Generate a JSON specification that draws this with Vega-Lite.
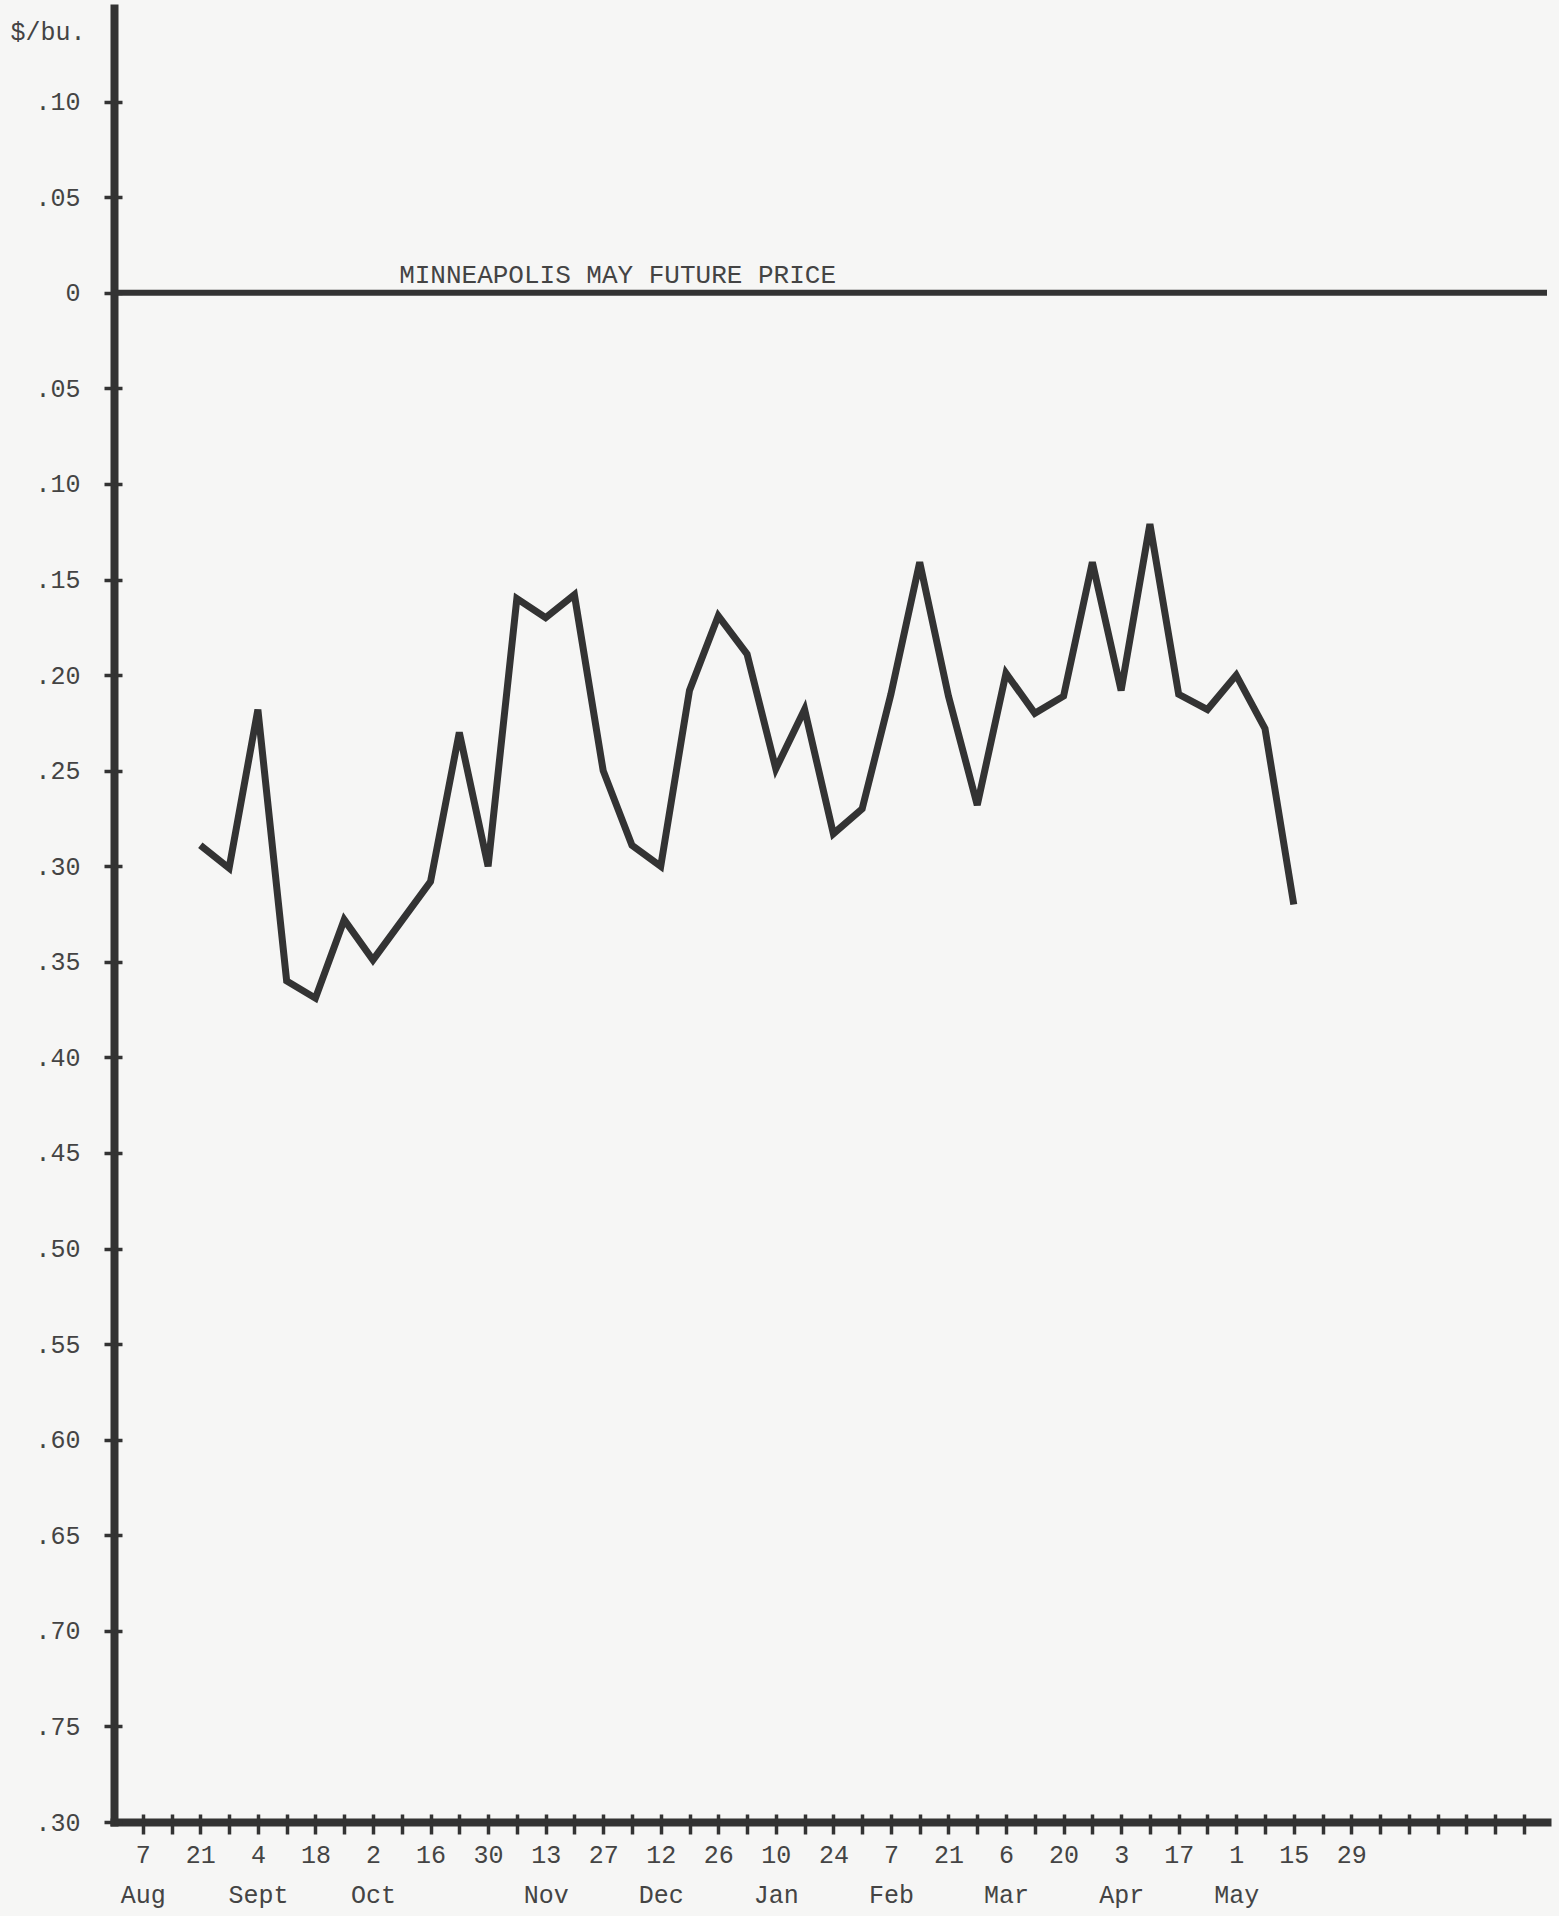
{
  "$schema": "https://vega.github.io/schema/vega-lite/v6.json",
  "width": 1433,
  "height": 1814,
  "autosize": {"type": "none"},
  "padding": {"left": 114, "top": 8, "right": 12, "bottom": 94},
  "background": "#f6f6f5",
  "config": {
    "view": {"stroke": null},
    "font": "Liberation Mono",
    "axis": {"grid": false}
  },
  "datasets": {
    "prices": [
      {"week": 2, "value": -0.289},
      {"week": 3, "value": -0.301},
      {"week": 4, "value": -0.218},
      {"week": 5, "value": -0.360},
      {"week": 6, "value": -0.369},
      {"week": 7, "value": -0.328},
      {"week": 8, "value": -0.349},
      {"week": 10, "value": -0.308},
      {"week": 11, "value": -0.230},
      {"week": 12, "value": -0.300},
      {"week": 13, "value": -0.160},
      {"week": 14, "value": -0.170},
      {"week": 15, "value": -0.158},
      {"week": 16, "value": -0.250},
      {"week": 17, "value": -0.289},
      {"week": 18, "value": -0.300},
      {"week": 19, "value": -0.208},
      {"week": 20, "value": -0.169},
      {"week": 21, "value": -0.189},
      {"week": 22, "value": -0.249},
      {"week": 23, "value": -0.218},
      {"week": 24, "value": -0.283},
      {"week": 25, "value": -0.270},
      {"week": 26, "value": -0.210},
      {"week": 27, "value": -0.141},
      {"week": 28, "value": -0.211},
      {"week": 29, "value": -0.268},
      {"week": 30, "value": -0.199},
      {"week": 31, "value": -0.220},
      {"week": 32, "value": -0.211},
      {"week": 33, "value": -0.141},
      {"week": 34, "value": -0.208},
      {"week": 35, "value": -0.121},
      {"week": 36, "value": -0.210},
      {"week": 37, "value": -0.218},
      {"week": 38, "value": -0.200},
      {"week": 39, "value": -0.228},
      {"week": 40, "value": -0.320}
    ],
    "reference": [{"value": 0}],
    "notes": [{"label": "MINNEAPOLIS MAY FUTURE PRICE", "week": 16.5, "value": 0}]
  },
  "resolve": {"axis": {"x": "independent", "y": "independent"}},
  "layer": [
    {
      "data": {"name": "reference"},
      "mark": {"type": "rule", "color": "#333333", "strokeWidth": 6},
      "encoding": {
        "y": {"field": "value", "type": "quantitative", "axis": null,
              "scale": {"domain": [-0.8, 0.149], "nice": false, "zero": false}}
      }
    },
    {
      "data": {"name": "prices"},
      "mark": {"type": "line", "color": "#333333", "strokeWidth": 7, "strokeJoin": "miter", "strokeMiterLimit": 4},
      "encoding": {
        "x": {
          "field": "week", "type": "quantitative",
          "scale": {"domain": [-1, 48.8], "nice": false, "zero": false},
          "axis": {
            "orient": "bottom",
            "title": null,
            "values": [0,1,2,3,4,5,6,7,8,9,10,11,12,13,14,15,16,17,18,19,20,21,22,23,24,25,26,27,28,29,30,31,32,33,34,35,36,37,38,39,40,41,42,43,44,45,46,47,48],
            "domain": true, "domainColor": "#333333", "domainWidth": 8, "domainCap": "square",
            "ticks": true, "tickSize": 12, "tickWidth": 3.5, "tickColor": "#333333",
            "labelExpr": "(datum.value % 2 == 0 && datum.value <= 42) ? [['7','21','4','18','2','16','30','13','27','12','26','10','24','7','21','6','20','3','17','1','15','29'][datum.value / 2], ['Aug','','Sept','','Oct','','','Nov','','Dec','','Jan','','Feb','','Mar','','Apr','','May','',''][datum.value / 2]] : ''",
            "labelFont": "Liberation Mono", "labelFontSize": 25, "labelColor": "#444444",
            "labelPadding": 8, "labelLineHeight": 40, "labelOverlap": false, "labelFlush": false, "labelBound": false
          }
        },
        "y": {
          "field": "value", "type": "quantitative",
          "scale": {"domain": [-0.8, 0.149], "nice": false, "zero": false},
          "axis": {
            "orient": "left",
            "title": "$/bu.",
            "titleAngle": 0, "titleAlign": "left", "titleBaseline": "middle",
            "titleX": -104, "titleY": 23,
            "titleFont": "Liberation Mono", "titleFontSize": 25, "titleFontWeight": "normal", "titleColor": "#444444",
            "values": [-0.8,-0.75,-0.7,-0.65,-0.6,-0.55,-0.5,-0.45,-0.4,-0.35,-0.3,-0.25,-0.2,-0.15,-0.1,-0.05,0,0.05,0.1],
            "domain": true, "domainColor": "#333333", "domainWidth": 8, "domainCap": "square",
            "ticks": true, "tickSize": 10, "tickWidth": 3.5, "tickColor": "#333333",
            "labelExpr": "abs(datum.value) < 0.001 ? '0' : (datum.value < -0.79 ? '.30' : slice(format(abs(datum.value), '.2f'), 1))",
            "labelFont": "Liberation Mono", "labelFontSize": 25, "labelColor": "#444444",
            "labelPadding": 24, "labelOverlap": false, "labelFlush": false, "labelBound": false
          }
        }
      }
    },
    {
      "data": {"name": "notes"},
      "mark": {"type": "text", "font": "Liberation Mono", "fontSize": 26, "color": "#444444", "align": "center", "baseline": "alphabetic", "dy": -10},
      "encoding": {
        "text": {"field": "label"},
        "x": {
          "field": "week", "type": "quantitative",
          "scale": {"domain": [-1, 48.8], "nice": false, "zero": false},
          "axis": {
            "orient": "bottom", "title": null, "labels": false, "domain": false,
            "values": [0,1,2,3,4,5,6,7,8,9,10,11,12,13,14,15,16,17,18,19,20,21,22,23,24,25,26,27,28,29,30,31,32,33,34,35,36,37,38,39,40,41,42,43,44,45,46,47,48],
            "ticks": true, "tickSize": -8, "tickWidth": 3.5, "tickColor": "#333333"
          }
        },
        "y": {
          "field": "value", "type": "quantitative",
          "scale": {"domain": [-0.8, 0.149], "nice": false, "zero": false},
          "axis": {
            "orient": "left", "title": null, "labels": false, "domain": false,
            "values": [-0.8,-0.75,-0.7,-0.65,-0.6,-0.55,-0.5,-0.45,-0.4,-0.35,-0.3,-0.25,-0.2,-0.15,-0.1,-0.05,0,0.05,0.1],
            "ticks": true, "tickSize": -8, "tickWidth": 3.5, "tickColor": "#333333"
          }
        }
      }
    }
  ]
}
